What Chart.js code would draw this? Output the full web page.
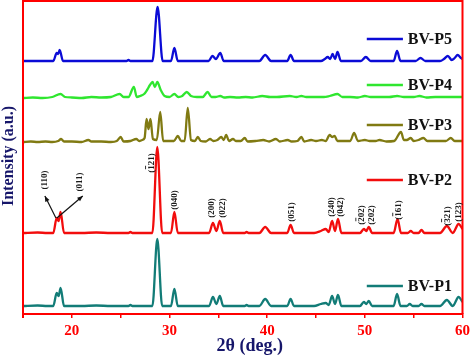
<!DOCTYPE html>
<html>
<head>
<meta charset="utf-8">
<script src="https://cdn.jsdelivr.net/npm/chart.js@4.4.0/dist/chart.umd.min.js"></script>
<style>
  html, body { margin: 0; padding: 0; background: #fff; }
  #wrap { width: 474px; height: 359px; }
</style>
</head>
<body>
<div id="wrap"><canvas id="xrd" width="474" height="359"></canvas></div>
<script>
// [2θ, intensity above the pattern's own baseline]
const p1Points = [[15,0],[16.5,0.5],[17.5,0],[18.1,0],[18.45,13],[18.65,10],[18.85,18],[19.2,0],[21,0],[22.5,0.5],[24,0],[25.8,0],[26.0,1],[26.2,0],[28.25,0],[28.75,67],[29.25,0],[30.15,0],[30.5,17],[30.85,0],[34.05,0],[34.45,9],[34.8,2],[35.15,10],[35.5,0],[37.7,0],[37.9,1],[38.1,0],[39.2,0],[39.8,7],[40.4,0],[42.05,0],[42.4,7],[42.75,0],[44.8,0],[45.5,2],[46.0,3],[46.3,1],[46.65,10],[46.95,2],[47.25,11],[47.6,0],[49.5,0],[49.9,4],[50.15,2],[50.4,5],[50.75,0],[52.95,0],[53.3,12],[53.65,0],[54.3,0],[54.6,2],[54.9,0],[55.5,0],[55.8,2],[56.1,0],[57.7,0],[58.4,6],[59.0,0],[59.6,9],[60,4]];
const p2Points = [[15,0],[16.5,0.5],[17.5,0],[18.1,0],[18.45,15],[18.65,12],[18.85,21],[19.2,0],[21,0],[22.5,0.5],[24,0],[25.8,0],[26.0,1],[26.2,0],[28.25,0],[28.75,86],[29.25,0],[30.15,0],[30.5,21],[30.85,0],[34.05,0],[34.45,10],[34.8,2],[35.15,12],[35.5,0],[37.7,0],[37.9,1],[38.1,0],[39.2,0],[39.8,6],[40.4,0],[42.05,0],[42.4,8],[42.75,0],[44.8,0],[45.5,2],[46.0,4],[46.3,1],[46.65,12],[46.95,2],[47.25,14],[47.6,0],[49.5,0],[49.9,4],[50.15,2],[50.4,6],[50.75,0],[52.95,0],[53.35,14],[53.7,0],[54.4,0],[54.7,2],[55.0,0],[55.5,0],[55.8,3],[56.1,0],[57.7,0],[58.4,7],[59.0,0],[59.6,9],[60,4]];
const p3Points = [[15,0],[15.8,0.5],[16.5,0],[17.3,0.5],[18.0,0],[18.6,1],[18.9,3],[19.2,0.5],[20.0,0.5],[21.0,0],[21.7,2],[22.0,0.5],[23.0,0.5],[24.0,0],[24.6,1],[25.0,5],[25.3,0.5],[26.0,1],[26.6,3],[26.9,1],[27.2,2],[27.45,4],[27.65,23],[27.85,13],[28.05,23],[28.3,3],[28.7,2],[29.05,30],[29.35,1],[30.0,1],[30.45,1],[30.85,6],[31.2,1],[31.55,1],[31.87,34],[32.2,2],[32.6,1],[32.9,5],[33.2,1],[33.7,0.5],[34.15,3],[34.5,1],[34.9,2],[35.3,5],[35.55,2],[35.8,7],[36.1,1],[36.5,3],[36.8,1],[37.3,1],[37.7,4],[38.0,0.5],[38.8,1],[39.6,2],[40.2,0.5],[40.9,3],[41.3,0.5],[42.1,2],[42.5,0.5],[43.1,1],[43.5,5],[43.8,0.5],[44.5,2],[45.0,1],[45.6,2],[46.0,1],[46.4,7],[46.65,5],[46.9,6],[47.2,1],[48.0,1],[48.5,1],[48.9,9],[49.3,1],[50.0,2],[50.5,1],[51.1,1],[51.5,2],[52.2,0.5],[53.0,1],[53.7,10],[54.0,2],[54.3,2],[54.7,4],[55.0,1],[55.5,2],[56.0,4],[56.4,1],[57.0,1],[57.6,1],[58.3,1],[58.8,4],[59.2,1],[60,1]];
const p4Points = [[15,0],[16.0,0.5],[17.0,0],[18.0,1],[18.85,4],[19.3,1],[20.0,0.5],[21.0,0],[22.0,1],[23.0,0.5],[24.0,1],[24.9,4],[25.3,1],[25.8,1],[26.35,11],[26.65,1],[27.0,2],[27.4,4],[27.7,8],[28.0,13],[28.27,16],[28.5,11],[28.75,16],[29.1,8],[29.5,2],[30.0,1],[30.5,4],[30.9,1],[31.3,2],[31.77,6],[32.2,2],[32.8,1],[33.4,1],[33.9,6],[34.3,1],[34.7,1],[35.2,2],[35.6,0.5],[36.2,1],[37.0,0.5],[37.8,1],[38.5,0.5],[39.5,2],[40.3,1],[41.0,1],[42.3,2],[43.0,1],[43.5,2],[44.0,1],[45.0,1],[45.8,1],[46.4,2],[47.2,4],[47.7,1],[48.5,1],[49.3,0.5],[50.0,2],[50.6,1],[51.5,1],[52.5,1],[53.3,2],[54.0,1],[55.0,1],[55.6,2],[56.3,0.5],[57.2,1],[58.0,1],[58.6,1],[59.5,1],[60,1]];
const p5Points = [[15,0],[17,0],[18.1,0],[18.45,8],[18.6,7],[18.75,11],[19.1,0],[22,0],[25.6,0],[25.8,1],[26.0,0],[28.25,0],[28.78,54],[29.3,0],[30.15,0],[30.5,13],[30.85,0],[34.0,0],[34.4,5],[34.75,2],[35.2,8],[35.55,0],[39.2,0],[39.8,6],[40.4,0],[42.05,0],[42.4,6],[42.75,0],[45.5,0],[45.9,2],[46.2,4],[46.45,2],[46.7,7],[46.95,2],[47.2,9],[47.55,0],[49.6,0],[50.1,4],[50.6,0],[52.95,0],[53.3,10],[53.65,0],[55.2,0],[55.7,3],[56.2,0],[57.7,0],[58.1,2],[58.5,5],[58.9,1],[59.2,3],[59.5,6],[59.85,3],[60,2]];

const seriesNames = ['BV-P1', 'BV-P2', 'BV-P3', 'BV-P4', 'BV-P5'];
const seriesPoints = [p1Points, p2Points, p3Points, p4Points, p5Points];
const baselines = [8, 81, 172, 216, 253];
const legendLevels = [28, 134, 189, 229, 275];
const xTickLabels = [20, 30, 40, 50, 60];

// Miller indices on BV-P2: label text (\u0304 = bar over the previous digit), 2θ of the label, height of its centre
const hklLabels = ['(110)', '(011)', '(1\u030421)', '(040)', '(200)', '(022)', '(051)', '(240)', '(042)', '(2\u030402)', '(202)', '(1\u030461)', '(3\u030421)', '(123)'];
const hklTheta = [17.14, 20.71, 28.06, 30.51, 34.29, 35.41, 42.45, 46.53, 47.45, 49.59, 50.61, 53.37, 58.37, 59.49];
const hklLevel = [134, 132, 151, 114, 106, 106, 102, 107, 107, 99, 99, 104, 98, 102];

const colors = ['#127c77', '#f20d0d', '#807a12', '#2fe62f', '#0b0bd6'];
const axisRed = '#ff0000';
const navy = '#16166a';
const serif = '"Liberation Serif", "Times New Roman", serif';

const decorPlugin = {
  id: 'decor',
  afterDraw(chart) {
    const { ctx, chartArea: a, scales: { x, y } } = chart;
    ctx.save();

    // red frame (bottom comes from the x axis border)
    ctx.strokeStyle = axisRed;
    ctx.lineWidth = 2;
    ctx.beginPath();
    ctx.moveTo(a.left, a.bottom + 4);
    ctx.lineTo(a.left, a.top);
    ctx.lineTo(a.right, a.top);
    ctx.lineTo(a.right, a.bottom);
    ctx.stroke();

    // legend entries sit next to each pattern
    ctx.font = 'bold 16px ' + serif;
    ctx.textBaseline = 'middle';
    ctx.textAlign = 'left';
    seriesNames.forEach((name, i) => {
      const ly = y.getPixelForValue(legendLevels[i]);
      ctx.strokeStyle = colors[i];
      ctx.lineWidth = 2.5;
      ctx.beginPath();
      ctx.moveTo(x.getPixelForValue(50.2), ly);
      ctx.lineTo(x.getPixelForValue(53.9), ly);
      ctx.stroke();
      ctx.fillStyle = '#111';
      ctx.fillText(name, x.getPixelForValue(54.4), ly + 1);
    });

    // hkl labels, rotated; bars drawn by hand
    ctx.fillStyle = '#1a1a1a';
    ctx.strokeStyle = '#1a1a1a';
    ctx.font = 'bold 9px ' + serif;
    ctx.textAlign = 'left';
    ctx.textBaseline = 'alphabetic';
    hklLabels.forEach((raw, i) => {
      const barAt = raw.indexOf('\u0304') - 1;
      const txt = raw.replace('\u0304', '');
      const w = ctx.measureText(txt).width;
      ctx.save();
      ctx.translate(x.getPixelForValue(hklTheta[i]) + 3, y.getPixelForValue(hklLevel[i]));
      ctx.rotate(-Math.PI / 2);
      ctx.fillText(txt, -w / 2, 0);
      if (barAt >= 0) {
        const x0 = -w / 2 + ctx.measureText(txt.slice(0, barAt)).width;
        const cw = ctx.measureText(txt[barAt]).width;
        ctx.lineWidth = 0.9;
        ctx.beginPath();
        ctx.moveTo(x0 + 0.5, -8);
        ctx.lineTo(x0 + cw - 0.5, -8);
        ctx.stroke();
      }
      ctx.restore();
    });

    // arrows from the (110)/(011) doublet
    const arrow = (t0, v0, t1, v1) => {
      const x0 = x.getPixelForValue(t0), y0 = y.getPixelForValue(v0);
      const x1 = x.getPixelForValue(t1), y1 = y.getPixelForValue(v1);
      const ang = Math.atan2(y1 - y0, x1 - x0);
      ctx.strokeStyle = '#111';
      ctx.fillStyle = '#111';
      ctx.lineWidth = 1.2;
      ctx.beginPath();
      ctx.moveTo(x0, y0);
      ctx.lineTo(x1, y1);
      ctx.stroke();
      ctx.beginPath();
      ctx.moveTo(x1, y1);
      ctx.lineTo(x1 - 6 * Math.cos(ang - 0.4), y1 - 6 * Math.sin(ang - 0.4));
      ctx.lineTo(x1 - 6 * Math.cos(ang + 0.4), y1 - 6 * Math.sin(ang + 0.4));
      ctx.closePath();
      ctx.fill();
    };
    arrow(18.37, 96, 17.24, 118);
    arrow(18.47, 96, 21.12, 118);

    // axis titles
    ctx.fillStyle = navy;
    ctx.font = 'bold 18px ' + serif;
    ctx.textAlign = 'center';
    ctx.fillText('2\u03b8 (deg.)', (a.left + a.right) / 2 + 7, 351);
    ctx.save();
    ctx.translate(9, 156);
    ctx.rotate(-Math.PI / 2);
    ctx.font = 'bold 16px ' + serif;
    ctx.textBaseline = 'middle';
    ctx.fillText('Intensity (a.u.)', 0, 0);
    ctx.restore();

    ctx.restore();
  }
};

new Chart(document.getElementById('xrd'), {
  type: 'line',
  data: {
    datasets: seriesPoints.map((pts, i) => ({
      label: seriesNames[i],
      data: pts.map(([t, v]) => ({ x: t, y: v + baselines[i] })),
      borderColor: colors[i],
      borderWidth: 2.3,
      pointRadius: 0,
      cubicInterpolationMode: 'monotone',
      fill: false,
    })),
  },
  options: {
    responsive: false,
    animation: false,
    events: [],
    layout: { padding: { left: 23, right: 8, top: 1, bottom: 0 } },
    plugins: {
      legend: { display: false },
      tooltip: { enabled: false },
    },
    scales: {
      x: {
        type: 'linear',
        min: 15,
        max: 60,
        afterFit: (s) => { s.height = 45; },
        ticks: {
          stepSize: 5,
          autoSkip: false,
          maxRotation: 0,
          padding: 4,
          color: axisRed,
          font: { family: serif, size: 15, weight: 'bold' },
          callback: (v) => (xTickLabels.includes(v) ? String(v) : ''),
        },
        grid: {
          drawOnChartArea: false,
          drawTicks: true,
          tickLength: 4,
          tickColor: axisRed,
          lineWidth: 1.5,
        },
        border: { color: axisRed, width: 2 },
      },
      y: {
        display: false,
        min: 0,
        max: 313,
      },
    },
  },
  plugins: [decorPlugin],
});
</script>
</body>
</html>
